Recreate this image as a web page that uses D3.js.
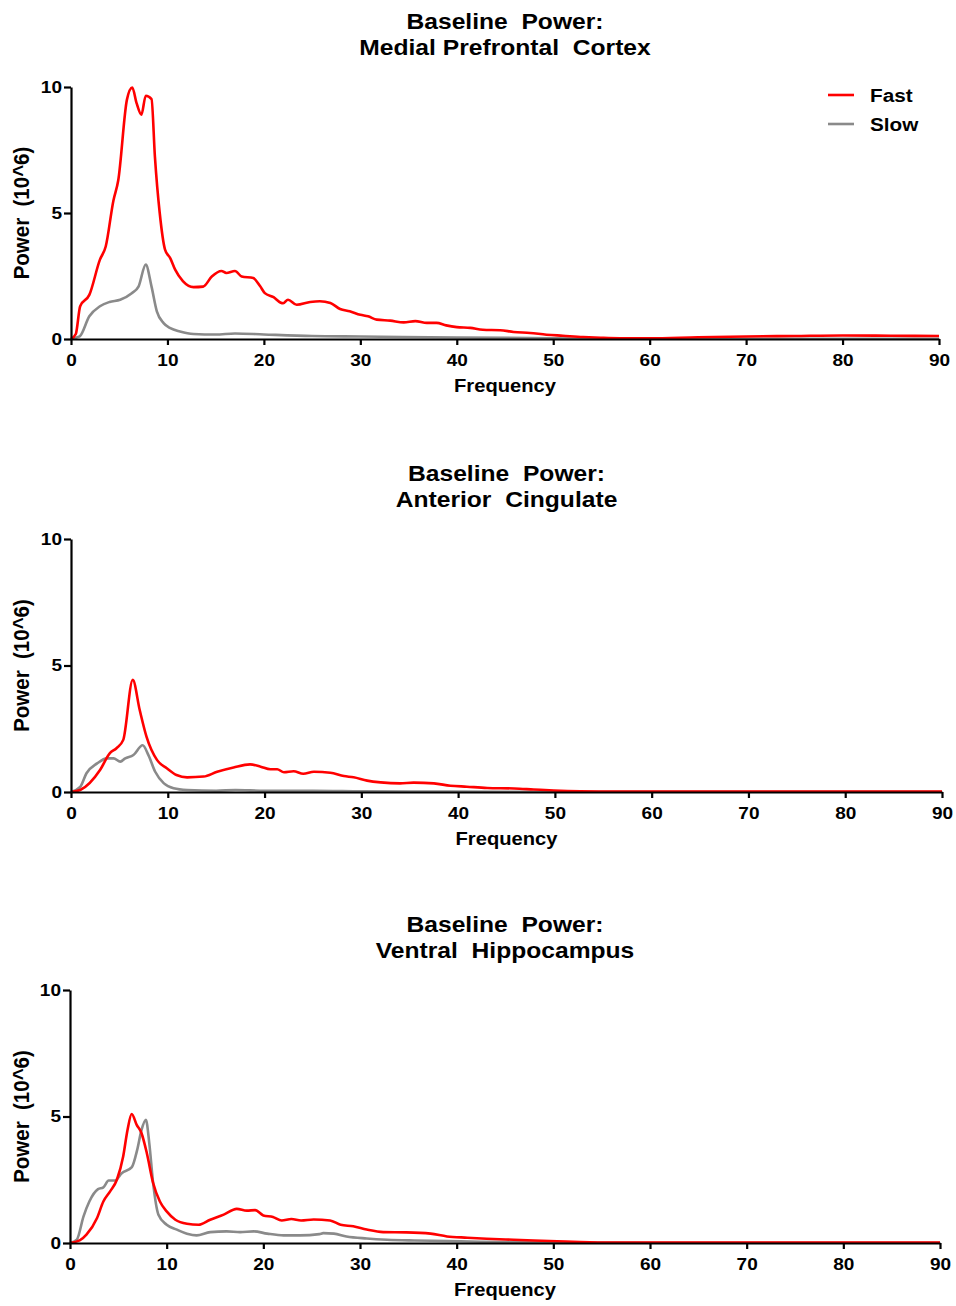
<!DOCTYPE html>
<html>
<head>
<meta charset="utf-8">
<script src="https://cdn.jsdelivr.net/npm/d3@7"></script>
<style>
  html, body { margin: 0; padding: 0; background: #fff; }
  svg { display: block; }
  text { font-family: "Liberation Sans", Arial, sans-serif; font-weight: bold; fill: #000; white-space: pre; }
</style>
</head>
<body>
<svg id="chart" width="956" height="1306"></svg>
<script>
// ---- Data: power spectra (10^6) by frequency (Hz) ----
const xTicks = [0, 10, 20, 30, 40, 50, 60, 70, 80, 90];
const yTicks = [0, 5, 10];
const seriesNames = ["Fast", "Slow"];
const regionTitles = ["Medial Prefrontal  Cortex", "Anterior  Cingulate", "Ventral  Hippocampus"];

// Medial prefrontal cortex
const mpfcFastFreq  = [0, 0.5, 0.95, 1.9, 3.0, 3.6, 4.4, 4.9, 5.8, 6.35, 6.8, 7.3, 7.75, 8.35, 8.7, 9.2, 9.75, 10.3, 10.8, 11.6, 12.7, 13.7, 14.6, 15.6, 16.1, 17.0, 17.7, 18.9, 19.6, 20.1, 21.0, 21.7, 22.0, 22.5, 23.4, 24.8, 25.8, 26.9, 27.9, 28.9, 30.0, 30.8, 31.7, 33.1, 34.5, 35.7, 36.9, 37.9, 38.9, 40.0, 41.4, 42.7, 44.5, 45.9, 47.6, 49.3, 51.0, 53.1, 54.9, 56.9, 60, 65, 70, 75, 80, 85, 90];
const mpfcFastPower = [0, 0.2, 1.3, 1.75, 3.15, 3.67, 5.5, 6.3, 9.5, 9.98, 9.36, 8.9, 9.65, 9.52, 7.24, 5.0, 3.55, 3.2, 2.75, 2.3, 2.06, 2.08, 2.48, 2.7, 2.62, 2.7, 2.48, 2.42, 2.1, 1.82, 1.66, 1.45, 1.42, 1.56, 1.36, 1.47, 1.5, 1.43, 1.19, 1.1, 0.96, 0.9, 0.77, 0.73, 0.66, 0.71, 0.64, 0.64, 0.54, 0.47, 0.44, 0.37, 0.35, 0.28, 0.24, 0.17, 0.13, 0.08, 0.05, 0.03, 0.03, 0.07, 0.1, 0.12, 0.14, 0.13, 0.12];
const mpfcSlowFreq  = [0, 0.9, 1.9, 3.0, 4.0, 5.1, 6.3, 7.0, 7.75, 8.35, 8.9, 9.6, 10.3, 11.3, 12.7, 15, 17, 20, 25, 30, 40, 50, 60, 70, 80, 90];
const mpfcSlowPower = [0, 0.1, 0.9, 1.3, 1.47, 1.56, 1.82, 2.08, 2.95, 2.08, 1.1, 0.63, 0.43, 0.3, 0.2, 0.18, 0.22, 0.18, 0.12, 0.1, 0.06, 0.03, 0.01, 0.01, 0.01, 0.01];

// Anterior cingulate
const acFastFreq  = [0, 0.95, 3.0, 4.0, 4.7, 5.4, 6.38, 7.1, 7.8, 8.9, 9.9, 10.9, 12.0, 13.7, 15.1, 16.8, 18.5, 19.6, 20.6, 21.3, 22.0, 23.0, 24.0, 25.1, 26.8, 28.2, 29.2, 30.6, 32.0, 34.0, 35.4, 37.5, 39.2, 40.9, 43.0, 45.8, 47.8, 49.9, 52.6, 56, 60, 70, 80, 90];
const acFastPower = [0, 0.08, 0.87, 1.53, 1.73, 2.06, 4.43, 3.24, 2.19, 1.26, 0.94, 0.67, 0.58, 0.61, 0.8, 0.97, 1.09, 1.0, 0.9, 0.9, 0.78, 0.82, 0.72, 0.8, 0.76, 0.63, 0.58, 0.45, 0.38, 0.34, 0.37, 0.34, 0.25, 0.21, 0.16, 0.14, 0.1, 0.06, 0.03, 0.02, 0.02, 0.02, 0.02, 0.02];
const acSlowFreq  = [0, 0.95, 1.6, 2.7, 3.7, 4.4, 5.1, 5.6, 6.45, 7.4, 8.0, 8.7, 9.6, 10.6, 12, 15, 17, 20, 25, 30, 35, 45, 60, 90];
const acSlowPower = [0, 0.2, 0.74, 1.13, 1.33, 1.33, 1.2, 1.33, 1.46, 1.85, 1.46, 0.8, 0.34, 0.15, 0.08, 0.05, 0.08, 0.05, 0.05, 0.03, 0.02, 0.01, 0.01, 0.01];

// Ventral hippocampus
const vhFastFreq  = [0, 1.0, 1.7, 2.8, 3.45, 4.15, 4.85, 5.5, 5.95, 6.38, 6.9, 7.4, 7.95, 8.6, 9.3, 10.0, 10.9, 12.1, 13.3, 14.5, 15.9, 17.25, 18.3, 19.15, 20.0, 21.0, 21.9, 22.9, 23.9, 25.2, 26.9, 28.0, 29.3, 30.7, 32.4, 34.8, 37.3, 39.0, 41.1, 43.1, 45.9, 48.0, 50.4, 52.8, 56, 60, 70, 80, 90];
const vhFastPower = [0, 0.1, 0.33, 0.99, 1.64, 2.04, 2.5, 3.42, 4.47, 5.1, 4.67, 4.34, 3.55, 2.37, 1.64, 1.25, 0.92, 0.76, 0.72, 0.92, 1.12, 1.35, 1.28, 1.3, 1.09, 1.03, 0.89, 0.95, 0.89, 0.93, 0.89, 0.72, 0.66, 0.53, 0.43, 0.42, 0.37, 0.26, 0.21, 0.17, 0.13, 0.1, 0.07, 0.04, 0.02, 0.02, 0.02, 0.02, 0.02];
const vhSlowFreq  = [0, 0.7, 1.4, 2.0, 2.9, 3.45, 4.0, 4.65, 5.35, 6.4, 6.95, 7.4, 7.85, 8.2, 8.6, 9.15, 10.0, 11.05, 12.1, 13.1, 14.5, 16.2, 17.6, 19.0, 20.4, 22.1, 23.8, 25.8, 26.2, 27.3, 28.6, 30.7, 32.8, 35.6, 39.0, 42.5, 50, 60, 90];
const vhSlowPower = [0, 0.13, 1.05, 1.64, 2.13, 2.2, 2.47, 2.47, 2.76, 3.0, 3.68, 4.47, 4.87, 3.95, 2.37, 1.12, 0.72, 0.53, 0.37, 0.3, 0.43, 0.46, 0.43, 0.46, 0.37, 0.3, 0.3, 0.35, 0.39, 0.37, 0.26, 0.18, 0.13, 0.1, 0.08, 0.05, 0.03, 0.01, 0.01];

const seriesColors = ["#ff0000", "#8a8a8a"];

// Text is drawn slightly wide (horizontal stretch)
const SX = 1.12;

// ---- Panel layout ----
const panels = [
  { title: regionTitles[0], top: 87,  bottom: 339,  left: 71, right: 939, fast: [mpfcFastFreq, mpfcFastPower], slow: [mpfcSlowFreq, mpfcSlowPower], legend: true },
  { title: regionTitles[1], top: 539, bottom: 792,  left: 71, right: 942, fast: [acFastFreq, acFastPower],     slow: [acSlowFreq, acSlowPower],     legend: false },
  { title: regionTitles[2], top: 990, bottom: 1243, left: 70, right: 940, fast: [vhFastFreq, vhFastPower],     slow: [vhSlowFreq, vhSlowPower],     legend: false }
];

const svg = d3.select("#chart");

function label(parent, x, y, str, size, anchor, rotate) {
  parent.append("text")
    .attr("transform", `translate(${x},${y}) scale(${SX},1)` + (rotate ? ` rotate(${rotate})` : ""))
    .attr("text-anchor", anchor)
    .attr("font-size", size)
    .text(str);
}

panels.forEach(p => {
  const x = d3.scaleLinear().domain([0, 90]).range([p.left, p.right]);
  const y = d3.scaleLinear().domain([0, 10]).range([p.bottom, p.top]);
  const g = svg.append("g");
  const cx = (p.left + p.right) / 2;

  // Title
  label(g, cx, p.top - 58.5, "Baseline  Power:", 22, "middle");
  label(g, cx, p.top - 32, p.title, 22, "middle");

  // Series lines
  const line = d3.line().x(d => x(d[0])).y(d => y(d[1])).curve(d3.curveMonotoneX);
  [p.slow, p.fast].forEach((s, i) => {
    const pts = s[0].map((f, k) => [f, s[1][k]]);
    g.append("path").datum(pts)
      .attr("fill", "none")
      .attr("stroke", i === 0 ? seriesColors[1] : seriesColors[0])
      .attr("stroke-width", 2.6)
      .attr("stroke-linejoin", "round")
      .attr("d", line);
  });

  // Axes
  const xAxis = g.append("g").attr("transform", `translate(0,${p.bottom})`)
    .call(d3.axisBottom(x).tickValues(xTicks).tickSize(6).tickPadding(9).tickSizeOuter(0));
  const yAxis = g.append("g").attr("transform", `translate(${p.left},0)`)
    .call(d3.axisLeft(y).tickValues(yTicks).tickSize(7).tickSizeOuter(0));
  [xAxis, yAxis].forEach(a => {
    a.select(".domain").attr("stroke", "#000").attr("stroke-width", 2.2);
    a.selectAll(".tick line").attr("stroke", "#000").attr("stroke-width", 2.2);
    a.selectAll(".tick text").attr("font-size", 17).attr("font-family", "Liberation Sans, Arial, sans-serif")
      .attr("font-weight", "bold").attr("fill", "#000")
      .attr("transform", `scale(${SX},1)`);
  });
  yAxis.selectAll(".tick text").attr("x", -9 / SX);

  // Axis titles
  label(g, cx, p.bottom + 53, "Frequency", 18, "middle");
  label(g, 29, (p.top + p.bottom) / 2, "Power  (10^6)", 20.5, "middle", -90);

  // Legend
  if (p.legend) {
    seriesNames.forEach((name, i) => {
      const ly = 95 + i * 29;
      g.append("line").attr("x1", 828).attr("x2", 854).attr("y1", ly).attr("y2", ly)
        .attr("stroke", seriesColors[i]).attr("stroke-width", 2.6);
      label(g, 870, ly + 6.7, name, 18.5, "start");
    });
  }
});
</script>
</body>
</html>
